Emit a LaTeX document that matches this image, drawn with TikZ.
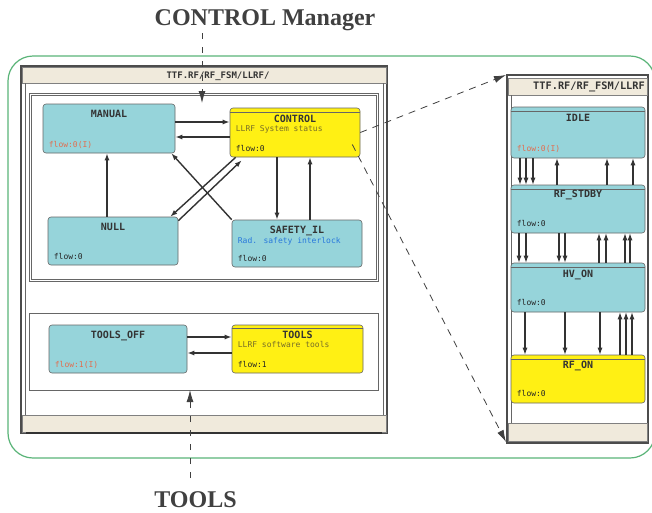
\documentclass[tikz,border=0pt]{standalone}
\usepackage{fontspec}
\setmainfont{Liberation Serif}
\newfontfamily\fsmfont{DejaVu Sans Mono}
\usetikzlibrary{arrows.meta,positioning}
\definecolor{fsmcyan}{RGB}{150,212,218}
\definecolor{fsmyellow}{RGB}{255,240,20}
\definecolor{barbeige}{RGB}{240,234,220}
\definecolor{framegreen}{RGB}{90,180,120}
\definecolor{flowred}{RGB}{225,110,80}
\definecolor{descblue}{RGB}{40,120,220}
\definecolor{descolive}{RGB}{120,110,40}

\begin{document}
\begin{tikzpicture}[x=1pt, y=-1pt,
  every node/.style={inner sep=0pt},
  state/.style={draw=black!60, fill=fsmcyan, rounded corners=3pt, line width=0.6pt},
  superstate/.style={state, fill=fsmyellow},
  ttl/.style={font=\fsmfont\bfseries\fontsize{10}{10}\selectfont, text=black!80, anchor=north},
  flow/.style={font=\fsmfont\fontsize{8}{8}\selectfont, text=black!85, anchor=base west},
  initflow/.style={flow, text=flowred},
  desc/.style={font=\fsmfont\fontsize{8}{8}\selectfont, anchor=base west},
  edge/.style={draw=black!80, line width=1.4pt, -{Latex[length=7pt,width=5pt]}},
  lead/.style={draw=black!75, line width=0.8pt, dash pattern=on 7pt off 6pt, -{Latex[length=12pt,width=7pt]}},
  winbar/.style={fill=barbeige, draw=black!50, line width=0.4pt},
  region/.style={draw=black!60, line width=0.6pt}]
\useasboundingbox (0,0) rectangle (652,512);
\fill[white] (0,0) rectangle (652,512);
% green frame
\draw[framegreen, line width=1.2pt, rounded corners=25pt] (8,56) rectangle (655,458);
% left window
\draw[black!70, line width=1.5pt] (21,66) rectangle (387,433);
\draw[winbar] (22,67) rectangle (386,83);
\draw[winbar] (22,415) rectangle (386,432);
\draw[black!80, line width=1.8pt] (26,433) -- (382,433);
\draw[black!60, line width=0.8pt] (25,83) -- (25,415);
\draw[black!60, line width=0.8pt] (383,83) -- (383,415);
\node[font=\fsmfont\bfseries\fontsize{9}{9}\selectfont, text=black!80] (ltitle) at (218,76) {TTF.RF/RF\_FSM/LLRF/};
\draw[region] (29,93) rectangle (378,281);
\draw[region] (31,95) rectangle (376,279);
\draw[region] (29,313) rectangle (378,390);
% right window
\draw[black!70, line width=1.5pt] (507,75) rectangle (648,443);
\draw[winbar] (508,78) rectangle (647,95);
\draw[winbar] (508,423) rectangle (647,441);
\draw[black!60, line width=0.8pt] (511,95) -- (511,423);
\node[font=\fsmfont\bfseries\fontsize{10.3}{10}\selectfont, text=black!80, anchor=west] (rtitle) at (533,87) {TTF.RF/RF\_FSM/LLRF};

% CONTROL states
\node[state, minimum width=132pt, minimum height=49pt] (manual) at (109,128.5) {};
\node[superstate, minimum width=130pt, minimum height=49pt] (control) at (295,132.5) {};
\node[state, minimum width=130pt, minimum height=48pt] (null) at (113,241) {};
\node[state, minimum width=130pt, minimum height=47pt] (safety) at (297,243.5) {};
\draw[black!60, line width=0.6pt] ([yshift=-5pt]control.north west) -- ([yshift=-5pt]control.north east);
\node[ttl] (manual-t) at ([yshift=-6pt]manual.north) {MANUAL};
\node[initflow] (manual-f) at ([shift={(6pt,6pt)}]manual.south west) {flow:0(I)};
\node[ttl] (control-t) at ([yshift=-7pt]control.north) {CONTROL};
\node[desc, text=descolive] (control-d) at ([shift={(6pt,-24pt)}]control.north west) {LLRF System status};
\node[flow] (control-f) at ([shift={(6pt,6pt)}]control.south west) {flow:0};
\node[ttl] (null-t) at ([yshift=-6pt]null.north) {NULL};
\node[flow] (null-f) at ([shift={(6pt,6pt)}]null.south west) {flow:0};
\node[ttl] (safety-t) at ([yshift=-6pt]safety.north) {SAFETY\_IL};
\node[desc, text=descblue] (safety-d) at ([shift={(6pt,-24pt)}]safety.north west) {Rad. safety interlock};
\node[flow] (safety-f) at ([shift={(6pt,6pt)}]safety.south west) {flow:0};

% TOOLS states
\node[state, minimum width=138pt, minimum height=48pt] (toolsoff) at (118,349) {};
\node[superstate, minimum width=131pt, minimum height=48pt] (tools) at (297.5,349) {};
\draw[black!60, line width=0.6pt] ([yshift=-4pt]tools.north west) -- ([yshift=-4pt]tools.north east);
\node[ttl] (toolsoff-t) at ([yshift=-6pt]toolsoff.north) {TOOLS\_OFF};
\node[initflow] (toolsoff-f) at ([shift={(6pt,6pt)}]toolsoff.south west) {flow:1(I)};
\node[ttl] (tools-t) at ([yshift=-6pt]tools.north) {TOOLS};
\node[desc, text=descolive] (tools-d) at ([shift={(6pt,-23pt)}]tools.north west) {LLRF software tools};
\node[flow] (tools-f) at ([shift={(6pt,6pt)}]tools.south west) {flow:1};

% RF states
\node[state, minimum width=134pt, minimum height=51pt] (idle) at (578,132.5) {};
\node[state, minimum width=134pt, minimum height=48pt] (stdby) at (578,209) {};
\node[state, minimum width=134pt, minimum height=49pt] (hvon) at (578,287.5) {};
\node[superstate, minimum width=134pt, minimum height=48pt] (rfon) at (578,379) {};
\foreach \s in {idle,stdby,hvon,rfon}
  \draw[black!60, line width=0.6pt] ([yshift=-5pt]\s.north west) -- ([yshift=-5pt]\s.north east);
\node[ttl] (idle-t) at ([yshift=-7pt]idle.north) {IDLE};
\node[initflow] (idle-f) at ([shift={(6pt,7pt)}]idle.south west) {flow:0(I)};
\node[ttl] (stdby-t) at ([yshift=-5pt]stdby.north) {RF\_STDBY};
\node[flow] (stdby-f) at ([shift={(6pt,7pt)}]stdby.south west) {flow:0};
\node[ttl] (hvon-t) at ([yshift=-7pt]hvon.north) {HV\_ON};
\node[flow] (hvon-f) at ([shift={(6pt,7pt)}]hvon.south west) {flow:0};
\node[ttl] (rfon-t) at ([yshift=-6pt]rfon.north) {RF\_ON};
\node[flow] (rfon-f) at ([shift={(6pt,7pt)}]rfon.south west) {flow:0};

% transitions, left window
\draw[edge] (manual.east |- 0,122) -- (control.west |- 0,122);
\draw[edge] (control.west |- 0,137) -- (manual.east |- 0,137);
\draw[edge] (null.north -| 107,0) -- (manual.south -| 107,0);
\draw[edge] (safety.north west) -- ([xshift=-4pt]manual.south east);
\draw[edge] ([xshift=6pt]control.south west) -- ([xshift=-8pt]null.north east);
\draw[edge] ([yshift=-4pt]null.north east) -- ([shift={(12pt,-3pt)}]control.south west);
\draw[edge] (control.south -| 277,0) -- (safety.north -| 277,0);
\draw[edge] (safety.north -| 310,0) -- (control.south -| 310,0);
\draw[edge] (toolsoff.east |- 0,337) -- (tools.west |- 0,337);
\draw[edge] (tools.west |- 0,353) -- (toolsoff.east |- 0,353);

% transitions, right window
\foreach \x in {520,526,533} \draw[edge, line width=1.1pt] (idle.south -| \x,0) -- (stdby.north -| \x,0);
\foreach \x in {557,607,633} \draw[edge, line width=1.1pt] (stdby.north -| \x,0) -- (idle.south -| \x,0);
\foreach \x in {519,526,559,565} \draw[edge, line width=1.1pt] (stdby.south -| \x,0) -- (hvon.north -| \x,0);
\foreach \x in {599,606,625,630} \draw[edge, line width=1.1pt] (hvon.north -| \x,0) -- (stdby.south -| \x,0);
\foreach \x in {525,565,600} \draw[edge, line width=1.1pt] (hvon.south -| \x,0) -- (rfon.north -| \x,0);
\foreach \x in {620,626,632} \draw[edge, line width=1.1pt] (rfon.north -| \x,0) -- (hvon.south -| \x,0);

% zoom leaders
\coordinate (rwin-nw) at (506,75);
\coordinate (rwin-sw) at (506,442);
\draw[lead] (control.east) -- (rwin-nw);
\draw[lead] ([shift={(-8pt,-12pt)}]control.east) -- (rwin-sw);

% labels
\node[font=\bfseries\fontsize{24}{24}\selectfont, text=black!75, anchor=base] (cmlabel) at (265,25) {CONTROL Manager};
\node[font=\bfseries\fontsize{24}{24}\selectfont, text=black!75, anchor=base] (tlabel) at (195.5,507) {TOOLS};
\coordinate (cm-top) at (202,33);
\coordinate (cm-tip) at (202,103);
\coordinate (tl-bot) at (190,478);
\coordinate (tl-tip) at (190,390);
\draw[lead, dash pattern=on 6pt off 8pt] (cm-top) -- (cm-tip);
\draw[lead, dash pattern=on 6pt off 8pt] (tl-bot) -- (tl-tip);
\end{tikzpicture}
\end{document}
